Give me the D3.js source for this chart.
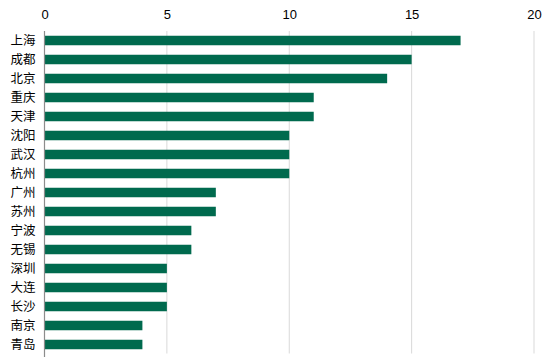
<!DOCTYPE html>
<html><head><meta charset="utf-8">
<script src="https://cdn.jsdelivr.net/npm/d3@7"></script>
<style>
html,body{margin:0;padding:0;background:#fff;}
svg{display:block;}
text{font-family:"Noto Sans CJK SC","Noto Sans",sans-serif;}
</style></head>
<body>
<svg id="chart" width="554" height="357"></svg>
<script>
const categories = ["上海","成都","北京","重庆","天津","沈阳","武汉","杭州","广州","苏州","宁波","无锡","深圳","大连","长沙","南京","青岛"];
const values = [17,15,14,11,11,10,10,10,7,7,6,6,5,5,5,4,4];
const tickValues = [0,5,10,15,20];

const svg = d3.select("#chart");
const x = d3.scaleLinear().domain([0,20]).range([44.5,534]);
const y = d3.scaleBand().domain(categories).range([31,354]).paddingInner(0.5).paddingOuter(0.25);

// gridlines
svg.append("g").selectAll("line").data(tickValues.filter(d=>d>0)).join("line")
  .attr("x1",d=>x(d)).attr("x2",d=>x(d)).attr("y1",31).attr("y2",353.5)
  .attr("stroke","#d9d9d9").attr("stroke-width",1);

// top axis labels
const ax = svg.append("g").attr("transform","translate(0,14)")
  .call(d3.axisTop(x).tickValues(tickValues).tickSize(0).tickPadding(0));
ax.select(".domain").remove();
ax.selectAll("text").attr("font-size",13).attr("fill","#000").attr("dy","0.35em")
  .style("font-family","Arial, 'Liberation Sans', sans-serif");

// bars
svg.append("g").selectAll("rect").data(categories).join("rect")
  .attr("x",x(0)).attr("y",d=>y(d)).attr("height",y.bandwidth())
  .attr("width",(d,i)=>x(values[i])-x(0)).attr("fill","#006a4e");

// vertical axis
const ay = svg.append("g").attr("transform",`translate(${x(0)},0)`)
  .call(d3.axisLeft(y).tickSize(0).tickPadding(9));
ay.select(".domain").attr("d","M0,31V357").attr("stroke","#8c8c8c").attr("stroke-width",1.2);
ay.selectAll("text").attr("font-size",12.5).attr("fill","#000");
</script>
</body></html>
